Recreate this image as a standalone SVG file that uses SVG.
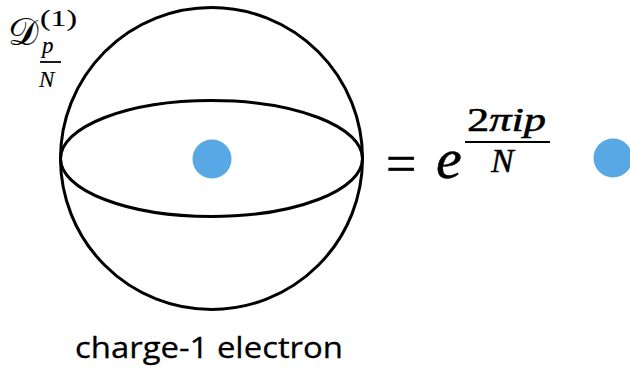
<svg xmlns="http://www.w3.org/2000/svg" width="630" height="370" viewBox="0 0 630 370">
<style>
.m{font-family:"Liberation Serif","DejaVu Serif",serif;fill:#000;stroke:#000;stroke-width:0.5}
.s{stroke-width:0.15}
.i{font-style:italic}
.ln{fill:none;stroke:#000;stroke-width:3}
.dot{fill:#58A8E6}
.lbl{font-family:"Open Sans","Noto Sans",sans-serif;font-size:30px;fill:#000;stroke:#000;stroke-width:0.3}
</style>
<rect width="630" height="370" fill="#fff"/>
<g id="sphere">
<circle class="ln" cx="211.5" cy="158.5" r="151"/>
<ellipse class="ln" cx="211.5" cy="158.5" rx="151" ry="58"/>
<circle class="dot" cx="212" cy="159" r="19.5"/>
</g>
<g id="operator-label">
<text class="m s" x="8" y="45" font-size="38">𝒟</text>
<text class="m s" x="40" y="26" font-size="23" textLength="37" lengthAdjust="spacingAndGlyphs">(1)</text>
<text class="m s i" x="42" y="53" font-size="23">p</text>
<line x1="40" y1="62" x2="61" y2="62" stroke="#000" stroke-width="1.8"/>
<text class="m s i" x="39" y="87" font-size="23">N</text>
</g>
<g id="equation">
<text class="m" x="386" y="182" font-size="54">=</text>
<text class="m i" x="436" y="178" font-size="58">e</text>
<text class="m" x="467" y="131" font-size="33" textLength="79" lengthAdjust="spacingAndGlyphs">2<tspan class="i">πip</tspan></text>
<line x1="465" y1="142" x2="550" y2="142" stroke="#000" stroke-width="2.2"/>
<text class="m i" x="491" y="172" font-size="34">N</text>
</g>
<g id="electron-right">
<circle class="dot" cx="613" cy="158" r="19.5"/>
</g>
<g id="caption">
<text class="lbl" x="75" y="358" textLength="268" lengthAdjust="spacingAndGlyphs">charge-1 electron</text>
</g>
<g id="connectors"/>
</svg>
